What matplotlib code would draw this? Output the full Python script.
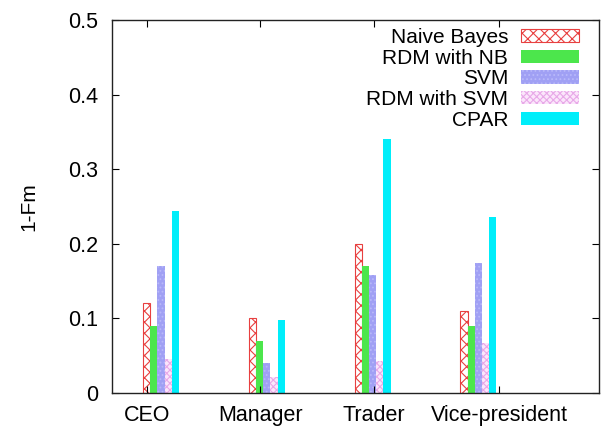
import numpy as np
import matplotlib
matplotlib.use("Agg")
import matplotlib.pyplot as plt

plt.rcParams['font.family'] = ['Liberation Sans', 'DejaVu Sans']
plt.rcParams['hatch.linewidth'] = 0.8

# 1-Fm per job title for each classifier
categories = ["CEO", "Manager", "Trader", "Vice-president"]
tick_pos = [-0.13, 0.94, 2.01, 3.20]
series = ["Naive Bayes", "RDM with NB", "SVM", "RDM with SVM", "CPAR"]
naive_bayes = [0.12, 0.10, 0.20, 0.11]
rdm_nb = [0.09, 0.07, 0.17, 0.09]
svm = [0.17, 0.04, 0.158, 0.174]
rdm_svm = [0.045, 0.022, 0.043, 0.067]
cpar = [0.244, 0.098, 0.34, 0.236]

styles = [
    dict(facecolor="white", edgecolor="#e84040", hatch="xxx", linewidth=0.8),
    dict(facecolor="#4ce64c", edgecolor="#4ce64c", linewidth=0),
    dict(facecolor="#a0a0f4", edgecolor="#b8b8fa", hatch="....", linewidth=0),
    dict(facecolor="#fbe6fb", edgecolor="#e8a8e8", hatch="xxxxx", linewidth=0),
    dict(facecolor="#00eefa", edgecolor="#00eefa", linewidth=0),
]

fig = plt.figure(figsize=(6.13, 4.26), dpi=100)
ax = fig.add_axes([0.1827, 0.0775, 0.7943, 0.8755])

x = np.arange(len(categories))
w = 0.068
for k, (name, vals) in enumerate(zip(series, [naive_bayes, rdm_nb, svm, rdm_svm, cpar])):
    ax.bar(x + (k - 2) * w, vals, width=w, label=name, **styles[k])

ax.set_xlim(-0.464, 4.14)
ax.set_ylim(0, 0.5)
ax.set_yticks([0, 0.1, 0.2, 0.3, 0.4, 0.5])
ax.set_yticklabels(["0", "0.1", "0.2", "0.3", "0.4", "0.5"])
ax.set_xticks(tick_pos)
ax.set_xticklabels(categories)
ax.tick_params(direction="in", top=True, right=True, labelsize=15.5,
               length=5, width=0.8)
ax.tick_params(axis="y", pad=10)
ax.tick_params(axis="x", pad=9)
ax.set_ylabel("1-Fm", fontsize=15, labelpad=21)
for s in ax.spines.values():
    s.set_linewidth(1.0)
    s.set_color("#222222")

leg = ax.legend(loc="upper right", bbox_to_anchor=(0.985, 1.012), frameon=False,
                markerfirst=False, fontsize=15, handlelength=2.8, handleheight=0.6,
                labelspacing=0.08, handletextpad=0.6, borderaxespad=0.2)

fig.savefig("out.png", dpi=100)
